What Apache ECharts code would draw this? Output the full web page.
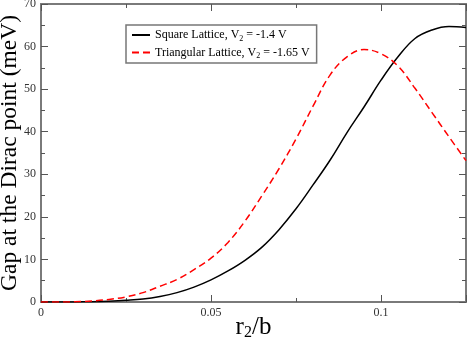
<!DOCTYPE html>
<html>
<head>
<meta charset="utf-8">
<script src="https://cdn.jsdelivr.net/npm/echarts@6/dist/echarts.min.js"></script>
<style>
html, body { margin: 0; padding: 0; background: #fff; }
#chart { width: 467px; height: 344px; }
</style>
</head>
<body>
<div id="chart"></div>
<script>
// r2/b sample points
var rb = [0, 0.005, 0.01, 0.015, 0.02, 0.025, 0.03, 0.035, 0.04, 0.045, 0.05, 0.055, 0.06,
  0.065, 0.07, 0.075, 0.08, 0.085, 0.09, 0.095, 0.1, 0.105, 0.11, 0.115, 0.12, 0.125];
// gap (meV), square lattice V2 = -1.4 V
var squareGap = [0, 0, 0.02, 0.08, 0.2, 0.4, 0.7, 1.3, 2.2, 3.5, 5.2, 7.3, 9.8,
  12.9, 17.0, 21.9, 27.5, 33.3, 39.8, 45.8, 52.1, 57.6, 61.9, 63.9, 64.7, 64.5];
// gap (meV), triangular lattice V2 = -1.65 V
var triGap = [0, 0.01, 0.05, 0.25, 0.6, 1.2, 2.2, 3.7, 5.3, 7.6, 10.3, 14.0, 19.0,
  25.0, 31.3, 38.3, 46.0, 53.3, 57.6, 59.3, 58.3, 55.4, 50.2, 44.5, 38.8, 33.2];
var xMajor = [0, 0.05, 0.1];

var chartDom = document.getElementById('chart');
var myChart = echarts.init(chartDom, null, { renderer: 'canvas' });

var serif = 'Liberation Serif';
var frameColor = '#7a7a7a';

function pairs(ys) {
  var out = [];
  for (var i = 0; i < rb.length; i++) out.push([rb[i], ys[i]]);
  return out;
}

function xAx(pos, withLabels, step, tickLen) {
  return {
    type: 'value', position: pos, min: 0, max: 0.125, interval: step,
    axisLine: { show: true, onZero: false, lineStyle: { color: frameColor, width: 2 } },
    axisTick: { show: true, inside: true, length: tickLen, lineStyle: { color: '#555', width: 1 } },
    axisLabel: {
      show: withLabels, margin: 5, fontFamily: serif, fontSize: 12, color: '#333',
      showMaxLabel: false,
      formatter: function (v) {
        for (var i = 0; i < xMajor.length; i++) {
          if (Math.abs(v - xMajor[i]) < 1e-9) return String(xMajor[i]);
        }
        return '';
      }
    },
    splitLine: { show: false }
  };
}

function yAx(pos, withLabels) {
  return {
    type: 'value', position: pos, min: 0, max: 70, interval: 10,
    axisLine: { show: true, onZero: false, lineStyle: { color: frameColor, width: 2 } },
    axisTick: { show: true, inside: true, length: 7, lineStyle: { color: '#555', width: 1 } },
    minorTick: { show: true, splitNumber: 2, length: 4, lineStyle: { color: '#555', width: 1 } },
    axisLabel: { show: withLabels, margin: 5, fontFamily: serif, fontSize: 12, color: '#333' },
    splitLine: { show: false }
  };
}

var xBottom = xAx('bottom', true, 0.025, 4);
xBottom.name = '{a|r}{s|2}{a|/b}';
xBottom.nameLocation = 'middle';
xBottom.nameGap = 11;
xBottom.nameMoveOverlap = false;
xBottom.nameTextStyle = {
  rich: {
    a: { fontFamily: serif, fontSize: 25, color: '#000' },
    s: { fontFamily: serif, fontSize: 16, color: '#000', padding: [12, 0, 0, 0] }
  }
};
var xBottomMajor = xAx('bottom', false, 0.05, 7);
var xTop = xAx('top', false, 0.025, 4);
var xTopMajor = xAx('top', false, 0.05, 7);

var yLeft = yAx('left', true);
yLeft.name = 'Gap at the Dirac point (meV)';
yLeft.nameLocation = 'middle';
yLeft.nameGap = 19;
yLeft.nameMoveOverlap = false;
yLeft.nameTextStyle = { fontFamily: serif, fontSize: 23.5, color: '#000' };
var yRight = yAx('right', false);

var option = {
  backgroundColor: '#fff',
  animation: false,
  grid: { left: 41, right: 1, top: 4, bottom: 42, containLabel: false, outerBoundsMode: 'none' },
  legend: {
    orient: 'vertical', left: 126, top: 25,
    padding: [4, 7, 3, 5], itemGap: 4, itemWidth: 18, itemHeight: 14,
    borderColor: '#777', borderWidth: 1.5,
    itemStyle: { opacity: 0 },
    data: ['square', 'tri'],
    formatter: function (name) {
      if (name === 'square') return '{a|Square Lattice, V}{s|2}{a| = -1.4 V}';
      return '{a|Triangular Lattice, V}{s|2}{a| = -1.65 V}';
    },
    textStyle: {
      rich: {
        a: { fontFamily: serif, fontSize: 12, color: '#000' },
        s: { fontFamily: serif, fontSize: 8, color: '#000', padding: [7, 0, 0, 0] }
      }
    }
  },
  xAxis: [xBottom, xBottomMajor, xTop, xTopMajor],
  yAxis: [yLeft, yRight],
  series: [
    {
      name: 'square', type: 'line', xAxisIndex: 0, yAxisIndex: 0,
      data: pairs(squareGap), symbol: 'none', smooth: 0.4,
      lineStyle: { color: '#000', width: 1.5 }, itemStyle: { color: '#000' }
    },
    {
      name: 'tri', type: 'line', xAxisIndex: 0, yAxisIndex: 0,
      data: pairs(triGap), symbol: 'none', smooth: 0.4,
      lineStyle: { color: '#ff0000', width: 1.5, type: [7, 4] }, itemStyle: { color: '#ff0000' }
    }
  ]
};

myChart.setOption(option);
</script>
</body>
</html>
